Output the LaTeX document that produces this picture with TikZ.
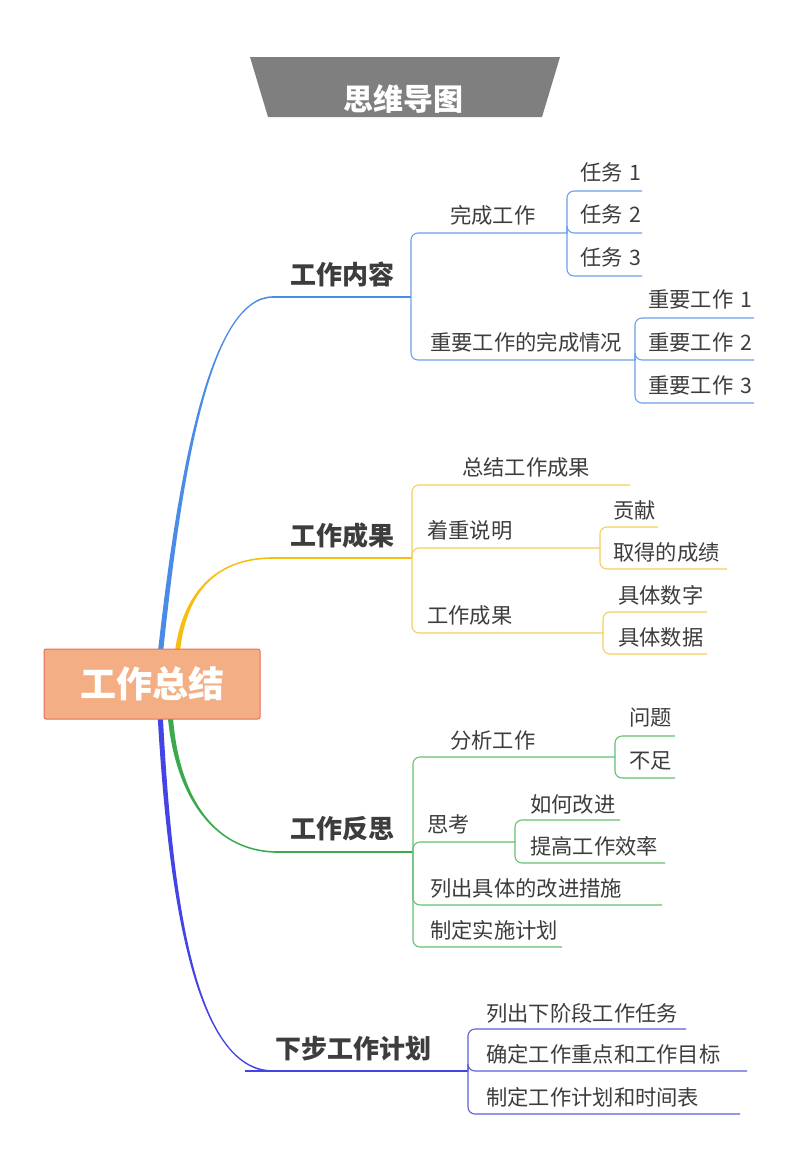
\documentclass[tikz,border=0pt]{standalone}
\usepackage{fontspec}
\setmainfont{Noto Sans CJK SC}
\usetikzlibrary{calc,backgrounds}
\definecolor{txt}{HTML}{3D3D3D}
\definecolor{rootfill}{HTML}{F4AE84}
\definecolor{rootline}{HTML}{E96F5B}
\definecolor{titlegray}{HTML}{7F7F7F}
\definecolor{cB}{HTML}{4A8BE8}
\definecolor{cBl}{HTML}{6CA0E8}
\definecolor{cY}{HTML}{F7BD10}
\definecolor{cYl}{HTML}{F5CE5C}
\definecolor{cG}{HTML}{3AAA4C}
\definecolor{cGl}{HTML}{66BF73}
\definecolor{cP}{HTML}{4343E6}
\definecolor{cPl}{HTML}{5E5EDD}
% tapered branch: color, start coord, control 1, control 2, end coord, dy
\newcommand\taper[6]{\fill[#1] ($(#2)+(-2.6,0)$) .. controls ($(#3)+(-2,0)$) and ($(#4)+(0,-#6)$) .. ($(#5)+(0,-#6)$) -- ($(#5)+(0,#6)$) .. controls ($(#4)+(0,#6)$) and ($(#3)+(2,0)$) .. ($(#2)+(2.6,0)$) -- cycle;}
\begin{document}
\begin{tikzpicture}[x=1pt,y=-1pt,
  sub/.style={font=\fontsize{21.3}{25}\selectfont, text=txt, inner sep=0pt, anchor=west},
  mainl/.style={font=\bfseries\fontsize{26}{30}\selectfont, text=txt, inner sep=0pt, anchor=west},
  link/.style={line width=1.1pt, rounded corners=7pt},
  trunk/.style={line width=1.6pt},
  rootbox/.style={fill=rootfill, draw=rootline, line width=1pt, rounded corners=2pt, minimum width=216pt, minimum height=70pt, inner sep=0pt, text=white, font=\bfseries\fontsize{36}{40}\selectfont},
  titletext/.style={text=white, font=\bfseries\fontsize{30}{34}\selectfont, inner sep=0pt}]
\useasboundingbox (0,0) rectangle (800,1173);

% root and title
\node[rootbox] (root) at (152,684) {工作总结};
\node[titletext] (title) at (403,99) {思维导图};

% main labels
\node[mainl] (m1) at (290,274) {工作内容};
\node[mainl] (m2) at (290,536) {工作成果};
\node[mainl] (m3) at (290,829) {工作反思};
\node[mainl] (m4) at (275,1049) {下步工作计划};

% branch coordinates
\coordinate (s1) at ($(root.north)+(8,8)$);
\coordinate (s2) at ($(root.north)+(25,8)$);
\coordinate (s3) at ($(root.south)+(18,-8)$);
\coordinate (s4) at ($(root.south)+(8,-8)$);
\coordinate (e1) at (273,297);
\coordinate (e2) at (273,558);
\coordinate (e3) at (278,852);
\coordinate (e4) at (273,1071);
\coordinate (p4) at (245,1071);
\coordinate (b1) at (411,297);
\coordinate (b2) at (412,558);
\coordinate (b3) at (413,852);
\coordinate (b4) at (468,1071);

\begin{scope}[on background layer]
  \fill[white] (0,0) rectangle (800,1173);
  \fill[titlegray] (250,57) -- (560,57) -- (542,117) -- (268,117) -- cycle;
  \taper{cB}{s1}{180,470}{210,297}{e1}{0.8}
  \taper{cY}{s2}{182,600}{210,558}{e2}{0.8}
  \taper{cG}{s3}{175,790}{210,852}{e3}{-0.8}
  \taper{cP}{s4}{170,900}{195,1071}{e4}{-0.8}
\end{scope}

% ---------- blue: 工作内容 ----------
\draw[trunk, cB] (e1) -- (b1);
\node[sub] (a1) at (450,215) {完成工作};
\coordinate (a1e) at (567,233);
\node[sub] (a2) at (430,342) {重要工作的完成情况};
\coordinate (a2e) at (635,360);
\draw[link, cBl] (b1) |- (a1e);
\draw[link, cBl] (b1) |- (a2e);

\node[sub] (t1) at (580,172) {任务\hspace{2pt} 1};
\node[sub] (t2) at (580,214) {任务\hspace{2pt} 2};
\node[sub] (t3) at (580,257) {任务\hspace{2pt} 3};
\coordinate (t1e) at (642,191);
\coordinate (t2e) at (642,233);
\coordinate (t3e) at (642,276);
\draw[link, cBl] (a1e) |- (t1e);
\draw[link, cBl] (a1e) |- (t2e);
\draw[link, cBl] (a1e) |- (t3e);

\node[sub] (i1) at (648,299) {重要工作\hspace{2pt} 1};
\node[sub] (i2) at (648,342) {重要工作\hspace{2pt} 2};
\node[sub] (i3) at (648,385) {重要工作\hspace{2pt} 3};
\coordinate (i1e) at (754,318);
\coordinate (i2e) at (754,360);
\coordinate (i3e) at (754,403);
\draw[link, cBl] (a2e) |- (i1e);
\draw[link, cBl] (a2e) |- (i2e);
\draw[link, cBl] (a2e) |- (i3e);

% ---------- yellow: 工作成果 ----------
\draw[trunk, cY] (e2) -- (b2);
\node[sub] (y1) at (462,467) {总结工作成果};
\coordinate (y1e) at (630,485);
\node[sub] (y2) at (427,530) {着重说明};
\coordinate (y2e) at (600,548);
\node[sub] (y3) at (427,615) {工作成果};
\coordinate (y3e) at (603,633);
\draw[link, cYl] (b2) |- (y1e);
\draw[link, cYl] (b2) |- (y2e);
\draw[link, cYl] (b2) |- (y3e);

\node[sub] (y21) at (613,510) {贡献};
\node[sub] (y22) at (613,552) {取得的成绩};
\coordinate (y21e) at (658,527);
\coordinate (y22e) at (727,569);
\draw[link, cYl] (y2e) |- (y21e);
\draw[link, cYl] (y2e) |- (y22e);

\node[sub] (y31) at (618,595) {具体数字};
\node[sub] (y32) at (618,637) {具体数据};
\coordinate (y31e) at (707,612);
\coordinate (y32e) at (707,654);
\draw[link, cYl] (y3e) |- (y31e);
\draw[link, cYl] (y3e) |- (y32e);

% ---------- green: 工作反思 ----------
\draw[trunk, cG] (e3) -- (b3);
\node[sub] (g1) at (450,740) {分析工作};
\coordinate (g1e) at (615,757);
\node[sub] (g2) at (427,824) {思考};
\coordinate (g2e) at (515,842);
\node[sub] (g3) at (430,888) {列出具体的改进措施};
\coordinate (g3e) at (662,905);
\node[sub] (g4) at (430,930) {制定实施计划};
\coordinate (g4e) at (562,947);
\draw[link, cGl] (b3) |- (g1e);
\draw[link, cGl] (b3) |- (g2e);
\draw[link, cGl] (b3) |- (g3e);
\draw[link, cGl] (b3) |- (g4e);

\node[sub] (g11) at (629,718) {问题};
\node[sub] (g12) at (629,761) {不足};
\coordinate (g11e) at (675,736);
\coordinate (g12e) at (675,778);
\draw[link, cGl] (g1e) |- (g11e);
\draw[link, cGl] (g1e) |- (g12e);

\node[sub] (g21) at (530,804) {如何改进};
\node[sub] (g22) at (530,846) {提高工作效率};
\coordinate (g21e) at (620,820);
\coordinate (g22e) at (665,863);
\draw[link, cGl] (g2e) |- (g21e);
\draw[link, cGl] (g2e) |- (g22e);

% ---------- purple: 下步工作计划 ----------
\draw[trunk, cP] (p4) -- (b4);
\node[sub] (q1) at (486,1013) {列出下阶段工作任务};
\node[sub] (q2) at (486,1054) {确定工作重点和工作目标};
\node[sub] (q3) at (486,1097) {制定工作计划和时间表};
\coordinate (q1e) at (686,1029);
\coordinate (q2e) at (747,1071);
\coordinate (q3e) at (740,1114);
\draw[link, cPl] (b4) |- (q1e);
\draw[link, cPl] (b4) |- (q2e);
\draw[link, cPl] (b4) |- (q3e);
\end{tikzpicture}
\end{document}
